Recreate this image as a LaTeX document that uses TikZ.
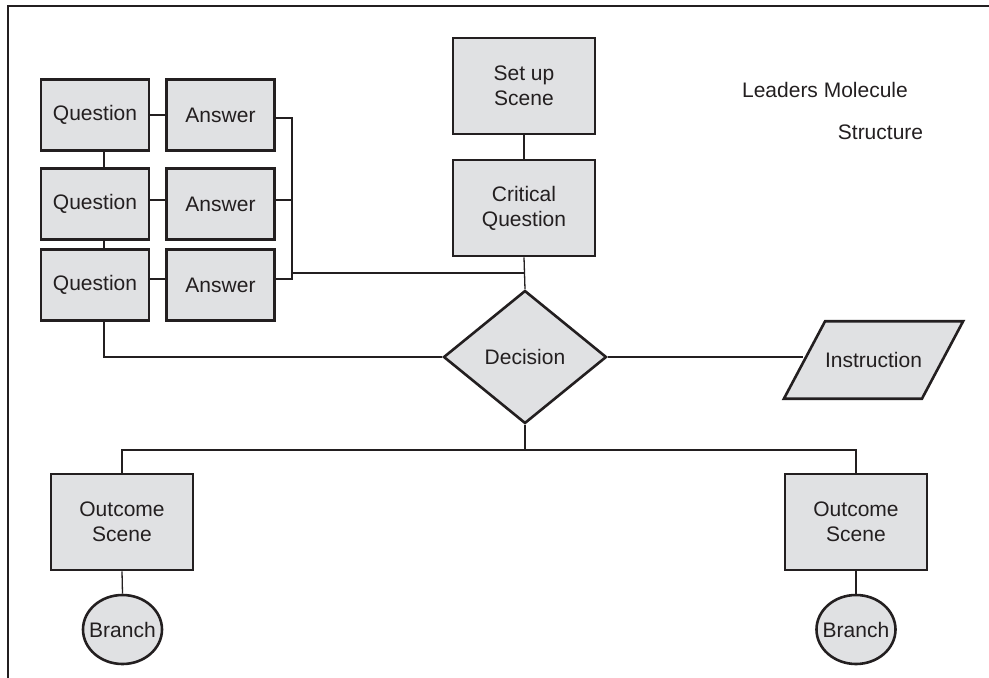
\documentclass[tikz,border=0pt]{standalone}
\usepackage{fontspec}
\setmainfont{Liberation Sans}
\usetikzlibrary{shapes.geometric}
\definecolor{boxfill}{RGB}{224,225,227}
\definecolor{ink}{RGB}{35,31,32}
\tikzset{
	box/.style={draw=ink, line width=2.6pt, fill=boxfill, text=ink, align=center, inner sep=0pt, minimum width=108pt, minimum height=71pt},
	scenebox/.style={box, minimum width=142pt, minimum height=96pt},
	choice/.style={box, diamond, minimum width=163pt, minimum height=133pt},
	instrbox/.style={box, trapezium, trapezium left angle=62, trapezium right angle=118, minimum width=0pt, minimum height=0pt, inner xsep=0pt, inner ysep=31pt},
	branchbox/.style={box, ellipse, minimum width=79pt, minimum height=69pt},
	link/.style={draw=ink, line width=1.3pt}
}

\begin{document}
\begin{tikzpicture}[x=1pt, y=-1pt, font=\fontsize{21}{25}\selectfont]
				\useasboundingbox (0,0) rectangle (989,678);
				\draw[ink, line width=2pt] (8,678) -- (8,6) -- (989,6);
				
				\node[box] (q1) at (95,115) {Question};
				\node[box] (a1) at (220.5,115) {Answer};
				\node[box] (q2) at (95,204) {Question};
				\node[box] (a2) at (220.5,204) {Answer};
				\node[box] (q3) at (95,285) {Question};
				\node[box] (a3) at (220.5,285) {Answer};
				
				\node[scenebox] (setup) at (524,86) {Set up\\Scene};
				\node[scenebox] (critical) at (524,208) {Critical\\Question};
				\node[choice] (decision) at (525,357) {Decision};
				\node[instrbox] (instr) at (873.5,360) {Instruction};
				
				\node[scenebox] (outl) at (122,522) {Outcome\\Scene};
				\node[scenebox] (outr) at (856,522) {Outcome\\Scene};
				\node[branchbox] (brl) at (122.5,629.5) {\makebox[0pt]{Branch}};
				\node[branchbox] (brr) at (856,629.5) {\makebox[0pt]{Branch}};
				
				\node[text=ink] (title) at (825,90) {Leaders Molecule};
				\node[text=ink] (subtitle) at (880.5,132) {Structure};
				
				\coordinate (brk) at (292,273);
				\coordinate (fork) at (525,450);
				
				\draw[link] (q1.east) -- (a1.west);
				\draw[link] ([yshift=4pt]q2.east) -- ([yshift=4pt]a2.west);
				\draw[link] ([yshift=6pt]q3.east) -- ([yshift=6pt]a3.west);
				\draw[link] ([xshift=9pt]q1.south) -- ([xshift=9pt]q2.north);
				\draw[link] ([xshift=9pt]q2.south) -- ([xshift=9pt]q3.north);
				\draw[link] ([xshift=9pt]q3.south) |- (decision.west);
				
				\draw[link] ([yshift=-3pt]a1.east) -| (brk |- 0,279) -- ([yshift=6pt]a3.east);
				\draw[link] ([yshift=4pt]a2.east) -- ([yshift=4pt]a2.east -| brk);
				\draw[link] (brk) -- (brk -| decision.north);
				
				\draw[link] (setup.south) -- (critical.north);
				\draw[link] (critical.south) -- (decision.north);
				\draw[link] (decision.east) -- (decision.east -| instr.west);
				
				\draw[link] (decision.south) -- (fork);
				\draw[link] (outl.north) |- (fork) -| (outr.north);
				\draw[link] (outl.south) -- (brl.north);
				\draw[link] (outr.south) -- (brr.north);
			\end{tikzpicture}
\end{document}
